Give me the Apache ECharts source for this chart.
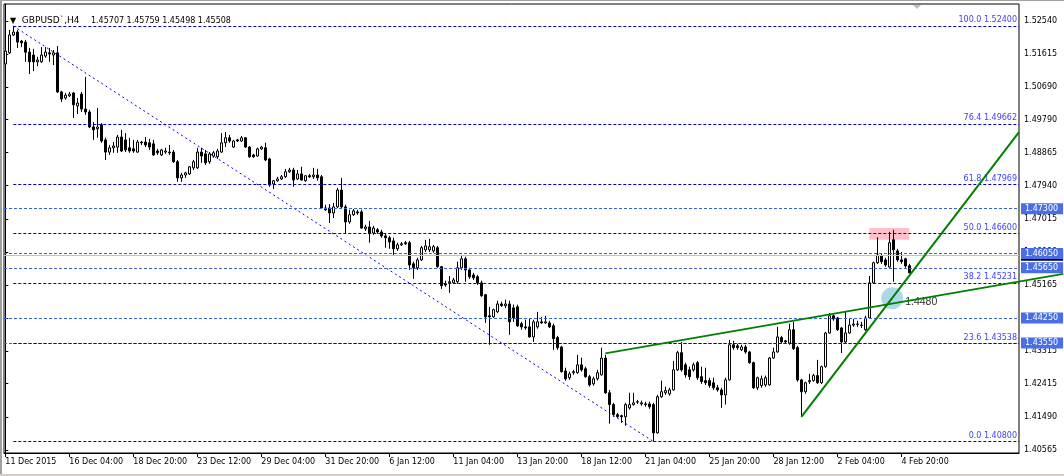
<!DOCTYPE html>
<html><head><meta charset="utf-8">
<script src="https://cdn.jsdelivr.net/npm/echarts@6/dist/echarts.min.js"></script>
<style>html,body{margin:0;padding:0;background:#fff}#c{width:1064px;height:476px}</style>
</head><body><div id="c"></div>
<script>
const symbolName = 'GBPUSD`,H4';
const xTickBars = [0,16,32,48,64,80,96,112,128,144,160,176,192,208,224];
const xTickLabels = ['11 Dec 2015','16 Dec 04:00','18 Dec 20:00','23 Dec 12:00','29 Dec 04:00','31 Dec 20:00','6 Jan 12:00','11 Jan 04:00','13 Jan 20:00','18 Jan 12:00','21 Jan 04:00','25 Jan 20:00','28 Jan 12:00','2 Feb 04:00','4 Feb 20:00'];
const yTickValues = [1.40565,1.41490,1.42415,1.43315,1.44240,1.45165,1.46090,1.47015,1.47940,1.48865,1.49790,1.50690,1.51615,1.52540];

const opens = [1.5134,1.5165,1.5215,1.5223,1.5198,1.5195,1.5167,1.5159,1.5140,1.5140,1.5156,1.5165,1.5159,1.5165,1.5056,1.5039,1.5045,1.5053,1.5017,1.5050,
1.5008,1.5000,1.4958,1.4953,1.4964,1.4922,1.4888,1.4900,1.4902,1.4930,1.4922,1.4900,1.4897,1.4888,1.4916,1.4916,1.4914,1.4911,1.4891,1.4880,
1.4888,1.4888,1.4888,1.4861,1.4816,1.4824,1.4827,1.4844,1.4844,1.4888,1.4883,1.4861,1.4877,1.4875,1.4888,1.4914,1.4928,1.4902,1.4922,1.4919,
1.4928,1.4902,1.4880,1.4877,1.4897,1.4900,1.4869,1.4799,1.4808,1.4813,1.4819,1.4833,1.4838,1.4813,1.4827,1.4808,1.4822,1.4819,1.4824,1.4819,
1.4732,1.4732,1.4718,1.4735,1.4782,1.4735,1.4693,1.4713,1.4721,1.4721,1.4674,1.4679,1.4662,1.4671,1.4665,1.4654,1.4649,1.4640,1.4618,1.4629,
1.4635,1.4635,1.4576,1.4565,1.4587,1.4615,1.4615,1.4612,1.4621,1.4568,1.4520,1.4523,1.4523,1.4526,1.4565,1.4590,1.4559,1.4545,1.4540,1.4523,
1.4490,1.4431,1.4428,1.4442,1.4464,1.4459,1.4464,1.4453,1.4456,1.4409,1.4400,1.4400,1.4372,1.4400,1.4414,1.4411,1.4411,1.4403,1.4370,1.4344,
1.4277,1.4258,1.4272,1.4272,1.4294,1.4283,1.4261,1.4241,1.4255,1.4266,1.4313,1.4216,1.4183,1.4155,1.4152,1.4149,1.4174,1.4183,1.4191,1.4185,
1.4185,1.4185,1.4183,1.4104,1.4205,1.4216,1.4213,1.4224,1.4280,1.4328,1.4294,1.4280,1.4280,1.4300,1.4261,1.4250,1.4250,1.4244,1.4230,1.4224,
1.4210,1.4252,1.4350,1.4347,1.4336,1.4344,1.4330,1.4300,1.4230,1.4236,1.4238,1.4238,1.4313,1.4330,1.4370,1.4361,1.4355,1.4392,1.4342,1.4252,
1.4219,1.4247,1.4250,1.4264,1.4244,1.4289,1.4383,1.4431,1.4425,1.4397,1.4358,1.4383,1.4405,1.4408,1.4405,1.4392,1.4425,1.4523,1.4579,1.4598,
1.4587,1.4567,1.4643,1.4612,1.4587,1.4590,1.45707];
const closes = [1.5170,1.5215,1.5223,1.5195,1.5193,1.5167,1.5140,1.5140,1.5145,1.5159,1.5167,1.5162,1.5165,1.5056,1.5036,1.5047,1.5050,1.5020,1.5025,1.5008,
1.5000,1.4958,1.4950,1.4958,1.4919,1.4888,1.4900,1.4905,1.4930,1.4891,1.4894,1.4891,1.4891,1.4916,1.4914,1.4908,1.4902,1.4880,1.4886,1.4894,
1.4891,1.4886,1.4861,1.4816,1.4824,1.4830,1.4847,1.4861,1.4888,1.4877,1.4858,1.4883,1.4886,1.4891,1.4914,1.4928,1.4919,1.4919,1.4919,1.4928,
1.4902,1.4875,1.4875,1.4897,1.4902,1.4866,1.4796,1.4808,1.4813,1.4819,1.4833,1.4838,1.4810,1.4827,1.4810,1.4822,1.4819,1.4824,1.4816,1.4732,
1.4727,1.4718,1.4735,1.4782,1.4735,1.4693,1.4713,1.4724,1.4718,1.4676,1.4679,1.4660,1.4676,1.4665,1.4654,1.4649,1.4637,1.4618,1.4629,1.4632,
1.4632,1.4573,1.4565,1.4587,1.4621,1.4626,1.4624,1.4624,1.4568,1.4515,1.4517,1.4526,1.4531,1.4565,1.4590,1.4559,1.4540,1.4537,1.4523,1.4487,
1.4428,1.4428,1.4448,1.4464,1.4459,1.4464,1.4414,1.4425,1.4403,1.4400,1.4397,1.4372,1.4414,1.4414,1.4411,1.4414,1.4400,1.4367,1.4342,1.4275,
1.4255,1.4269,1.4275,1.4294,1.4280,1.4261,1.4238,1.4255,1.4272,1.4313,1.4216,1.4183,1.4155,1.4149,1.4149,1.4183,1.4183,1.4188,1.4190,1.4188,
1.4183,1.4177,1.4104,1.4205,1.4219,1.4222,1.4224,1.4280,1.4328,1.4280,1.4266,1.4261,1.4294,1.4258,1.4247,1.4244,1.4236,1.4230,1.4224,1.4210,
1.4252,1.4350,1.4342,1.4342,1.4344,1.4330,1.4300,1.4230,1.4258,1.4255,1.4258,1.4313,1.4330,1.4372,1.4358,1.4358,1.4392,1.4339,1.4252,1.4219,
1.4244,1.4250,1.4264,1.4244,1.4289,1.4383,1.4431,1.4422,1.4392,1.4358,1.4383,1.4405,1.4408,1.4407,1.4404,1.4425,1.4523,1.4579,1.4601,1.4582,
1.4573,1.4635,1.4615,1.4587,1.4582,1.4570,1.45508];
const lows = [1.5123,1.5162,1.5212,1.5179,1.5181,1.5140,1.5106,1.5114,1.5128,1.5137,1.5151,1.5140,1.5131,1.5053,1.5028,1.5034,1.5042,1.4983,1.4994,1.5000,
1.4992,1.4955,1.4922,1.4928,1.4914,1.4866,1.4880,1.4886,1.4886,1.4888,1.4888,1.4886,1.4886,1.4886,1.4908,1.4902,1.4894,1.4877,1.4880,1.4877,
1.4883,1.4880,1.4858,1.4805,1.4805,1.4816,1.4824,1.4838,1.4841,1.4858,1.4852,1.4855,1.4872,1.4869,1.4886,1.4902,1.4914,1.4900,1.4916,1.4916,
1.4900,1.4872,1.4872,1.4875,1.4894,1.4863,1.4791,1.4785,1.4805,1.4810,1.4816,1.4830,1.4791,1.4810,1.4808,1.4805,1.4816,1.4813,1.4808,1.4729,
1.4724,1.4690,1.4704,1.4732,1.4732,1.4660,1.4688,1.4710,1.4713,1.4674,1.4668,1.4635,1.4657,1.4660,1.4649,1.4621,1.4618,1.4601,1.4612,1.4626,
1.4629,1.4559,1.4534,1.4559,1.4584,1.4609,1.4609,1.4607,1.4565,1.4506,1.4512,1.4495,1.4520,1.4520,1.4559,1.4526,1.4534,1.4531,1.4517,1.4484,
1.4411,1.4350,1.4425,1.4439,1.4456,1.4453,1.4378,1.4414,1.4400,1.4392,1.4392,1.4370,1.4358,1.4395,1.4409,1.4409,1.4397,1.4336,1.4336,1.4272,
1.4250,1.4252,1.4266,1.4269,1.4275,1.4258,1.4233,1.4236,1.4250,1.4264,1.4213,1.4130,1.4149,1.4146,1.4132,1.4124,1.4169,1.4180,1.4185,1.4180,
1.4177,1.4171,1.4080,1.4102,1.4202,1.4210,1.4208,1.4222,1.4277,1.4275,1.4258,1.4252,1.4275,1.4252,1.4241,1.4238,1.4230,1.4224,1.4219,1.4174,
1.4183,1.4250,1.4336,1.4336,1.4333,1.4325,1.4297,1.4227,1.4224,1.4230,1.4233,1.4236,1.4311,1.4328,1.4355,1.4353,1.4350,1.4336,1.4247,1.4149,
1.4213,1.4241,1.4247,1.4241,1.4241,1.4286,1.4381,1.4417,1.4389,1.4327,1.4355,1.4381,1.4400,1.4400,1.4397,1.4389,1.4422,1.4520,1.4576,1.4576,
1.4568,1.4565,1.4526,1.4582,1.4576,1.4565,1.45498];
const highs = [1.5179,1.5229,1.5240,1.5229,1.5201,1.5201,1.5179,1.5176,1.5154,1.5181,1.5181,1.5179,1.5173,1.5184,1.5059,1.5053,1.5056,1.5056,1.5039,1.5056,
1.5098,1.5006,1.4972,1.5011,1.4969,1.4928,1.4908,1.4916,1.4936,1.4950,1.4941,1.4928,1.4922,1.4922,1.4919,1.4930,1.4925,1.4922,1.4897,1.4897,
1.4900,1.4908,1.4894,1.4866,1.4830,1.4833,1.4849,1.4866,1.4900,1.4900,1.4894,1.4888,1.4891,1.4897,1.4941,1.4944,1.4936,1.4922,1.4925,1.4933,
1.4930,1.4905,1.4883,1.4900,1.4905,1.4914,1.4872,1.4810,1.4819,1.4824,1.4841,1.4844,1.4844,1.4838,1.4847,1.4824,1.4827,1.4844,1.4841,1.4824,
1.4741,1.4743,1.4746,1.4788,1.4816,1.4741,1.4727,1.4729,1.4727,1.4727,1.4685,1.4696,1.4682,1.4676,1.4671,1.4662,1.4654,1.4649,1.4635,1.4637,
1.4640,1.4640,1.4582,1.4593,1.4626,1.4643,1.4646,1.4629,1.4626,1.4570,1.4529,1.4542,1.4537,1.4582,1.4601,1.4596,1.4565,1.4551,1.4545,1.4529,
1.4492,1.4456,1.4451,1.4473,1.4470,1.4476,1.4473,1.4462,1.4462,1.4414,1.4420,1.4423,1.4420,1.4442,1.4428,1.4431,1.4417,1.4409,1.4375,1.4347,
1.4286,1.4275,1.4280,1.4322,1.4314,1.4289,1.4266,1.4261,1.4280,1.4342,1.4322,1.4224,1.4188,1.4160,1.4155,1.4188,1.4216,1.4216,1.4196,1.4194,
1.4191,1.4191,1.4188,1.4210,1.4250,1.4233,1.4230,1.4305,1.4333,1.4358,1.4300,1.4289,1.4300,1.4305,1.4289,1.4286,1.4258,1.4258,1.4238,1.4230,
1.4258,1.4364,1.4361,1.4353,1.4350,1.4350,1.4333,1.4303,1.4261,1.4264,1.4264,1.4316,1.4342,1.4400,1.4375,1.4364,1.4409,1.4414,1.4347,1.4255,
1.4247,1.4269,1.4269,1.4308,1.4292,1.4386,1.4439,1.4434,1.4428,1.4400,1.4442,1.4422,1.4422,1.4417,1.4414,1.4431,1.4542,1.4582,1.4650,1.4604,
1.4593,1.4665,1.4671,1.4618,1.4609,1.4593,1.45759];

const fiboLevels = [100.0, 76.4, 61.8, 50.0, 38.2, 23.6, 0.0];
const fiboPrices = [1.52400, 1.49662, 1.47969, 1.46600, 1.45231, 1.43538, 1.40800];
const fiboAnchors = [[2, 1.52400], [162, 1.40800]];
const priceLevels = [1.47300, 1.46050, 1.45650, 1.44250, 1.43550];
const currentPrice = 1.45508;
const trendLineA = [[150, 1.4326], [264.5, 1.4548]];
const trendLineB = [[199, 1.4149], [253.4, 1.4944]];
const zoneBars = [216, 226];
const zonePrices = [1.4676, 1.4643];
const crossPoint = [221.7, 1.4480];
const crossLabel = '1.4480';

const FONT = 'DejaVu Sans';
const X_MIN = -0.325, X_MAX = 253.4, Y_MIN = 1.40479, Y_MAX = 1.53014;
const X_MAX_WIDE = X_MIN + 1060 / 4;
const FIB_COLOR = '#0000cd', FIB_TEXT = '#4040ff', LVL_COLOR = '#3a5fe0', LVL_BOX = '#4a6ee6';

const candles = opens.map((o, i) => [i, o, closes[i], lows[i], highs[i]]);
const last = candles.length - 1;

const chart = echarts.init(document.getElementById('c'), null, {renderer: 'canvas'});
chart.setOption({
  animation: false,
  backgroundColor: '#fff',
  textStyle: {fontFamily: FONT},
  title: {
    left: 5, top: 7,
    text: '{tri|▼} {sym|' + symbolName + '}  {num|' + [opens[last], highs[last], lows[last], closes[last]].map(v => v.toFixed(5)).join(' ') + '}',
    textStyle: {
      fontWeight: 'normal',
      rich: {
        tri: {fontFamily: FONT, fontSize: 8, fontWeight: 'normal', color: '#000'},
        sym: {fontFamily: FONT, fontSize: 9, fontWeight: 'normal', color: '#000'},
        num: {fontFamily: FONT, fontSize: 8, fontWeight: 'normal', color: '#000'}
      }
    }
  },
  grid: [
    {left: 4, top: 4, width: 1015, height: 449, show: true, borderColor: '#000', borderWidth: 1, backgroundColor: 'transparent'},
    {left: 4, top: 4, width: 1060, height: 449, show: false}
  ],
  xAxis: [{
    type: 'value', min: X_MIN, max: X_MAX, gridIndex: 0,
    splitLine: {show: false},
    axisLine: {onZero: false, lineStyle: {color: '#000', width: 1}},
    axisTick: {show: true, customValues: xTickBars, length: 4, lineStyle: {color: '#000'}},
    axisLabel: {customValues: xTickBars, formatter: v => xTickLabels[xTickBars.indexOf(Math.round(v))] || '',
      align: 'left', fontFamily: FONT, fontSize: 8, color: '#000', margin: 5}
  }, {
    type: 'value', min: X_MIN, max: X_MAX_WIDE, gridIndex: 1, show: false
  }],
  yAxis: [{
    type: 'value', position: 'right', min: Y_MIN, max: Y_MAX, gridIndex: 0,
    splitLine: {show: false},
    axisLine: {show: true, lineStyle: {color: '#000'}},
    axisTick: {show: true, customValues: yTickValues, length: 3, lineStyle: {color: '#000'}},
    axisLabel: {customValues: yTickValues, formatter: v => v.toFixed(5), fontFamily: FONT, fontSize: 8, color: '#000', margin: 5}
  }, {
    type: 'value', min: Y_MIN, max: Y_MAX, gridIndex: 1, show: false
  }],
  graphic: [
    {type: 'polygon', shape: {points: [[913, 5], [921, 5], [917, 9]]}, style: {fill: '#c0c0c0'}, z: 100},
    {type: 'rect', shape: {x: 0, y: 0, width: 1064, height: 1}, style: {fill: '#a0a0a0'}, z: 100},
    {type: 'rect', shape: {x: 0, y: 0, width: 2, height: 476}, style: {fill: '#a0a0a0'}, z: 100},
    {type: 'rect', shape: {x: 0, y: 474, width: 1064, height: 2}, style: {fill: '#d4d0c8'}, z: 100}
  ],
  series: [
    {
      type: 'line', name: 'zone', data: [], z: 1, silent: true,
      markArea: {silent: true, itemStyle: {color: '#ffc0cb'},
        data: [[{coord: [zoneBars[0], zonePrices[0]]}, {coord: [zoneBars[1], zonePrices[1]]}]]},
      markLine: {silent: true, symbol: ['none', 'none'],
        lineStyle: {color: '#c0c0c0', type: 'solid', width: 1},
        label: {show: true, position: 'end', distance: 2, formatter: p => p.value.toFixed(5),
          backgroundColor: '#000', color: '#fff', fontFamily: FONT, fontSize: 8, lineHeight: 9, padding: [1, 5, 1, 4]},
        data: [{yAxis: currentPrice}]}
    },
    {
      type: 'line', name: 'levels', data: [], z: 2, silent: true,
      markLine: {silent: true, symbol: ['none', 'none'], precision: 5,
        lineStyle: {color: LVL_COLOR, type: [3, 2], width: 1},
        label: {show: true, position: 'end', distance: 2, formatter: p => p.value.toFixed(5),
          backgroundColor: LVL_BOX, color: '#fff', fontFamily: FONT, fontSize: 8, lineHeight: 9, padding: [1, 5, 1, 4]},
        data: priceLevels.map(v => ({yAxis: v}))}
    },
    {
      type: 'line', name: 'fibo', data: [], z: 2, silent: true,
      markLine: {silent: true, symbol: ['none', 'none'],
        lineStyle: {color: FIB_COLOR, type: [3, 2], width: 1},
        label: {show: true, position: 'insideEndTop', distance: [2, 2], color: FIB_TEXT, fontFamily: FONT, fontSize: 8},
        data: fiboPrices.map((p, k) => [
          {coord: [fiboAnchors[0][0], p], label: {formatter: fiboLevels[k].toFixed(1) + ' ' + p.toFixed(5)}},
          {coord: [X_MAX, p]}
        ])}
    },
    {
      type: 'candlestick', name: 'GBPUSD', data: candles, z: 3, barWidth: 2,
      itemStyle: {color: '#fff', color0: '#000', borderColor: '#000', borderColor0: '#000', borderColorDoji: '#000', borderWidth: 1}
    },
    {
      type: 'line', name: 'fiboTrend', data: fiboAnchors, z: 4, symbol: 'none', silent: true,
      lineStyle: {color: '#0000ff', width: 1, type: [2, 3]}
    },
    {
      type: 'scatter', name: 'cross', data: [crossPoint], z: 4, symbolSize: 22, silent: true,
      itemStyle: {color: '#add8e6', opacity: 1},
      label: {show: true, position: 'right', distance: 2, offset: [0, 4], formatter: crossLabel,
        color: '#303030', fontFamily: 'Liberation Sans', fontSize: 10.5}
    },
    {
      type: 'line', name: 'trendA', data: trendLineA, zlevel: 1, z: 5, symbol: 'none', silent: true,
      xAxisIndex: 1, yAxisIndex: 1,
      lineStyle: {color: '#008000', width: 2}
    },
    {
      type: 'line', name: 'trendB', data: trendLineB, zlevel: 1, z: 5, symbol: 'none', clip: true, silent: true,
      lineStyle: {color: '#008000', width: 2}
    }
  ]
});
</script></body></html>
